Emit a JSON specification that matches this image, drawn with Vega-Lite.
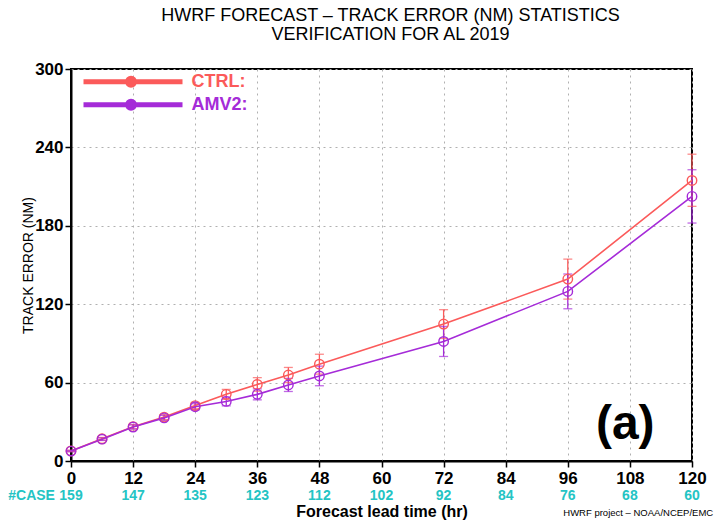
{
  "$schema": "https://vega.github.io/schema/vega-lite/v6.json",
  "width": 621,
  "height": 392,
  "autosize": {"type": "none"},
  "padding": {"left": 71, "top": 69, "right": 26, "bottom": 62},
  "background": "white",
  "title": {
    "text": ["HWRF FORECAST – TRACK ERROR (NM) STATISTICS", "VERIFICATION FOR AL 2019"],
    "font": "Liberation Sans",
    "fontSize": 18,
    "fontWeight": "normal",
    "lineHeight": 19,
    "color": "black",
    "anchor": "middle",
    "dx": 9,
    "offset": 16
  },
  "config": {
    "view": {"stroke": "black", "strokeWidth": 2},
    "axis": {
      "labelFont": "Liberation Sans",
      "labelFontSize": 17,
      "labelFontWeight": "bold",
      "labelColor": "black",
      "tickColor": "black",
      "tickSize": 6,
      "tickWidth": 1.5,
      "domainColor": "black",
      "domainWidth": 2,
      "gridColor": "#b0b0b0",
      "gridDash": [2, 4],
      "gridWidth": 1,
      "labelPadding": 2,
      "titleColor": "black",
      "titleFont": "Liberation Sans"
    },
    "axisX": {
      "labelFlush": false,
      "labelPadding": 3,
      "titleFontSize": 16,
      "titleFontWeight": "bold",
      "titlePadding": 17
    },
    "axisY": {
      "titleFontSize": 14,
      "titleFontWeight": "normal",
      "titleX": -43,
      "titleY": 196,
      "titleAngle": -90,
      "titleAlign": "center",
      "titleBaseline": "middle"
    }
  },
  "datasets": {
    "err": [
      {"hour": 0, "model": "CTRL", "mean": 7.7, "lo": 7.2, "hi": 8.2},
      {"hour": 6, "model": "CTRL", "mean": 17.0, "lo": 16.0, "hi": 18.0},
      {"hour": 12, "model": "CTRL", "mean": 26.3, "lo": 24.7, "hi": 27.9},
      {"hour": 18, "model": "CTRL", "mean": 33.6, "lo": 31.7, "hi": 35.5},
      {"hour": 24, "model": "CTRL", "mean": 42.4, "lo": 40.0, "hi": 44.8},
      {"hour": 30, "model": "CTRL", "mean": 51.0, "lo": 47.2, "hi": 54.8},
      {"hour": 36, "model": "CTRL", "mean": 58.6, "lo": 53.4, "hi": 63.8},
      {"hour": 42, "model": "CTRL", "mean": 65.8, "lo": 60.0, "hi": 71.6},
      {"hour": 48, "model": "CTRL", "mean": 74.1, "lo": 66.5, "hi": 81.7},
      {"hour": 72, "model": "CTRL", "mean": 104.8, "lo": 93.8, "hi": 115.8},
      {"hour": 96, "model": "CTRL", "mean": 139.2, "lo": 123.9, "hi": 154.5},
      {"hour": 120, "model": "CTRL", "mean": 214.7, "lo": 194.9, "hi": 234.8},
      {"hour": 0, "model": "AMV2", "mean": 7.6, "lo": 7.1, "hi": 8.1},
      {"hour": 6, "model": "AMV2", "mean": 16.7, "lo": 15.7, "hi": 17.7},
      {"hour": 12, "model": "AMV2", "mean": 26.0, "lo": 24.4, "hi": 27.6},
      {"hour": 18, "model": "AMV2", "mean": 33.0, "lo": 31.1, "hi": 34.9},
      {"hour": 24, "model": "AMV2", "mean": 41.5, "lo": 39.2, "hi": 43.8},
      {"hour": 30, "model": "AMV2", "mean": 45.6, "lo": 42.2, "hi": 49.0},
      {"hour": 36, "model": "AMV2", "mean": 51.0, "lo": 46.8, "hi": 55.2},
      {"hour": 42, "model": "AMV2", "mean": 58.2, "lo": 53.2, "hi": 63.2},
      {"hour": 48, "model": "AMV2", "mean": 65.1, "lo": 57.6, "hi": 72.6},
      {"hour": 72, "model": "AMV2", "mean": 91.5, "lo": 80.0, "hi": 103.0},
      {"hour": 96, "model": "AMV2", "mean": 129.8, "lo": 116.5, "hi": 143.1},
      {"hour": 120, "model": "AMV2", "mean": 202.5, "lo": 182.1, "hi": 222.9}
    ],
    "cases": [
      {"hour": 0, "n": 159},
      {"hour": 12, "n": 147},
      {"hour": 24, "n": 135},
      {"hour": 36, "n": 123},
      {"hour": 48, "n": 112},
      {"hour": 60, "n": 102},
      {"hour": 72, "n": 92},
      {"hour": 84, "n": 84},
      {"hour": 96, "n": 76},
      {"hour": 108, "n": 68},
      {"hour": 120, "n": 60}
    ]
  },
  "layer": [
    {
      "data": {"name": "err"},
      "mark": {"type": "rule", "strokeWidth": 1.3},
      "encoding": {
        "x": {"field": "hour", "type": "quantitative", "scale": {"domain": [0, 120], "nice": false, "zero": false}, "title": "Forecast lead time (hr)", "axis": {"values": [0, 12, 24, 36, 48, 60, 72, 84, 96, 108, 120]}},
        "y": {"field": "lo", "type": "quantitative", "scale": {"domain": [0, 300], "nice": false}, "title": "TRACK ERROR (NM)", "axis": {"values": [0, 60, 120, 180, 240, 300]}},
        "y2": {"field": "hi"},
        "color": {"field": "model", "type": "nominal", "scale": {"domain": ["CTRL", "AMV2"], "range": ["#fb5a5a", "#a52bd8"]}}
      }
    },
    {
      "data": {"name": "err"},
      "mark": {"type": "tick", "orient": "horizontal", "size": 9, "thickness": 1.3},
      "encoding": {
        "x": {"field": "hour", "type": "quantitative", "title": "Forecast lead time (hr)"},
        "y": {"field": "lo", "type": "quantitative", "title": "TRACK ERROR (NM)"},
        "color": {"field": "model", "type": "nominal"}
      }
    },
    {
      "data": {"name": "err"},
      "mark": {"type": "tick", "orient": "horizontal", "size": 9, "thickness": 1.3},
      "encoding": {
        "x": {"field": "hour", "type": "quantitative", "title": "Forecast lead time (hr)"},
        "y": {"field": "hi", "type": "quantitative", "title": "TRACK ERROR (NM)"},
        "color": {"field": "model", "type": "nominal"}
      }
    },
    {
      "data": {"name": "err"},
      "mark": {"type": "line", "strokeWidth": 1.6},
      "encoding": {
        "x": {"field": "hour", "type": "quantitative", "title": "Forecast lead time (hr)"},
        "y": {"field": "mean", "type": "quantitative", "title": "TRACK ERROR (NM)"},
        "color": {
          "field": "model",
          "type": "nominal",
          "legend": {
            "title": null,
            "orient": "none",
            "legendX": 3.5,
            "legendY": 3.7,
            "padding": 0,
            "rowPadding": -5,
            "symbolType": "M0,0H19.8M10.2,0A0.7,0.7,0,1,1,8.8,0A0.7,0.7,0,1,1,10.2,0",
            "symbolSize": 100,
            "symbolStrokeWidth": 5,
            "symbolFillColor": "transparent",
            "labelOffset": 99,
            "labelFont": "Liberation Sans",
            "labelFontSize": 18,
            "labelFontWeight": "bold",
            "labelExpr": "datum.label + ':'",
            "encode": {"labels": {"update": {"fill": {"scale": "color", "field": "value"}}}}
          }
        }
      }
    },
    {
      "data": {"name": "err"},
      "mark": {"type": "point", "filled": false, "size": 90, "strokeWidth": 1.4, "opacity": 1},
      "encoding": {
        "x": {"field": "hour", "type": "quantitative", "title": "Forecast lead time (hr)"},
        "y": {"field": "mean", "type": "quantitative", "title": "TRACK ERROR (NM)"},
        "color": {"field": "model", "type": "nominal"}
      }
    },
    {
      "data": {"name": "cases"},
      "mark": {"type": "text", "font": "Liberation Sans", "fontSize": 14, "fontWeight": "bold", "color": "#24c4c4", "baseline": "middle"},
      "encoding": {
        "x": {"field": "hour", "type": "quantitative", "title": "Forecast lead time (hr)"},
        "y": {"datum": -27, "type": "quantitative"},
        "text": {"field": "n", "type": "nominal"}
      }
    },
    {
      "data": {"values": [{}]},
      "mark": {"type": "text", "text": "#CASE", "font": "Liberation Sans", "fontSize": 14, "fontWeight": "bold", "color": "#24c4c4", "baseline": "middle", "align": "right"},
      "encoding": {
        "x": {"datum": -3.1, "type": "quantitative"},
        "y": {"datum": -27, "type": "quantitative"}
      }
    },
    {
      "data": {"values": [{}]},
      "mark": {"type": "text", "text": "(a)", "font": "Liberation Sans", "fontSize": 48, "fontWeight": "bold", "color": "black", "baseline": "middle", "align": "center"},
      "encoding": {
        "x": {"datum": 107.1, "type": "quantitative"},
        "y": {"datum": 27.8, "type": "quantitative"}
      }
    },
    {
      "data": {"values": [{}]},
      "mark": {"type": "text", "text": "HWRF project – NOAA/NCEP/EMC", "font": "Liberation Sans", "fontSize": 9.5, "color": "black", "baseline": "middle", "align": "right"},
      "encoding": {
        "x": {"datum": 124.1, "type": "quantitative"},
        "y": {"datum": -39.6, "type": "quantitative"}
      }
    }
  ]
}
